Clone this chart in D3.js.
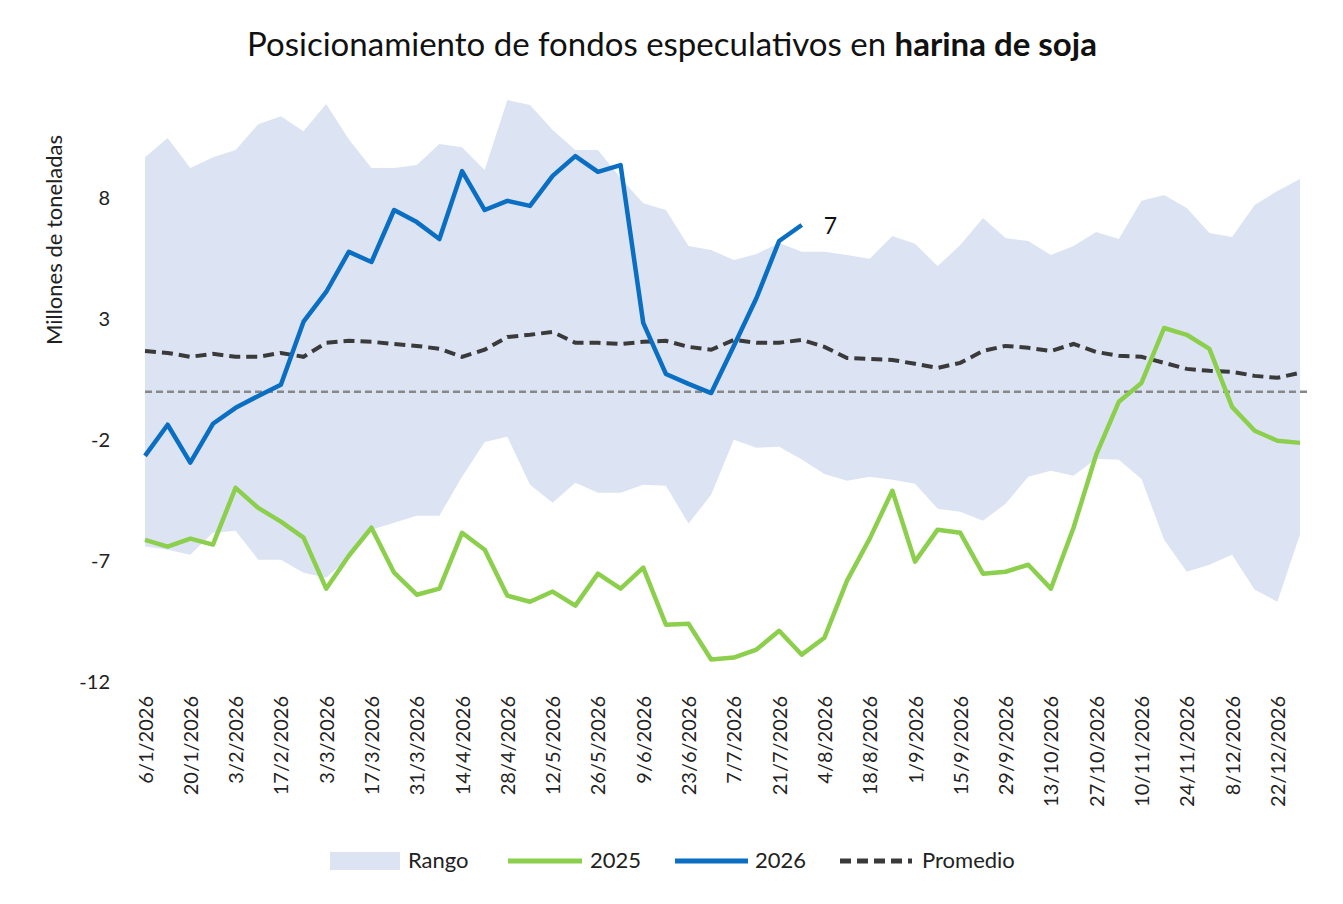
<!DOCTYPE html>
<html><head><meta charset="utf-8">
<script src="https://cdn.jsdelivr.net/npm/d3@7/dist/d3.min.js"></script>
<style>body{margin:0;background:#fff;font-family:Lato,"Open Sans",sans-serif}</style>
</head><body><svg id="c" width="1343" height="904"></svg>
<script>
const tickLabels=["6/1/2026","20/1/2026","3/2/2026","17/2/2026","3/3/2026","17/3/2026","31/3/2026","14/4/2026","28/4/2026","12/5/2026","26/5/2026","9/6/2026","23/6/2026","7/7/2026","21/7/2026","4/8/2026","18/8/2026","1/9/2026","15/9/2026","29/9/2026","13/10/2026","27/10/2026","10/11/2026","24/11/2026","8/12/2026","22/12/2026"];
const s2026=[-2.65,-1.36,-2.93,-1.32,-0.66,-0.17,0.29,2.9,4.13,5.79,5.37,7.52,7.02,6.32,9.13,7.52,7.9,7.69,8.93,9.75,9.1,9.38,2.85,0.74,0.33,-0.05,1.9,3.88,6.24,6.9];
const s2025=[-6.12,-6.4,-6.07,-6.32,-3.97,-4.8,-5.37,-6.03,-8.14,-6.78,-5.62,-7.48,-8.39,-8.14,-5.83,-6.53,-8.43,-8.68,-8.26,-8.84,-7.52,-8.14,-7.27,-9.63,-9.59,-11.07,-10.99,-10.66,-9.88,-10.87,-10.17,-7.81,-6.07,-4.09,-7.02,-5.7,-5.83,-7.52,-7.44,-7.15,-8.14,-5.62,-2.6,-0.41,0.37,2.64,2.36,1.78,-0.62,-1.61,-2.02,-2.11];
const promedio=[1.69,1.61,1.45,1.57,1.45,1.45,1.61,1.45,2.03,2.11,2.07,1.98,1.9,1.78,1.45,1.74,2.27,2.36,2.48,2.03,2.03,1.98,2.07,2.11,1.86,1.74,2.15,2.03,2.03,2.15,1.86,1.4,1.36,1.32,1.16,0.99,1.2,1.69,1.9,1.82,1.69,1.98,1.65,1.49,1.45,1.2,0.95,0.87,0.83,0.66,0.58,0.79];
const rangoMax=[9.7,10.5,9.26,9.7,10.0,11.07,11.4,10.78,11.9,10.45,9.26,9.26,9.38,10.25,10.12,9.17,12.07,11.86,10.83,10.0,10.0,8.84,7.8,7.52,6.03,5.87,5.45,5.7,6.16,5.79,5.79,5.66,5.5,6.45,6.12,5.2,6.07,7.19,6.36,6.24,5.66,6.03,6.61,6.32,7.9,8.14,7.6,6.57,6.4,7.73,8.31,8.8];
const rangoMin=[-6.4,-6.53,-6.74,-5.83,-5.74,-6.94,-6.94,-7.48,-7.69,-6.86,-5.7,-5.41,-5.12,-5.12,-3.51,-2.07,-1.86,-3.84,-4.59,-3.76,-4.17,-4.17,-3.84,-3.88,-5.45,-4.26,-1.98,-2.31,-2.27,-2.8,-3.4,-3.68,-3.51,-3.64,-3.8,-4.83,-4.96,-5.33,-4.63,-3.51,-3.26,-3.47,-2.77,-2.81,-3.6,-6.12,-7.44,-7.15,-6.74,-8.18,-8.68,-5.9];
const yTicks=[8,3,-2,-7,-12];

const svg=d3.select("#c");
const x=d3.scaleLinear().domain([0,51]).range([145,1300]);
const y=d3.scaleLinear().domain([-12,12.07]).range([682,100]);
const idx=d3.range(52);

svg.append("path").datum(idx).attr("fill","#dce4f4")
 .attr("d",d3.area().x(i=>x(i)).y0(i=>y(rangoMin[i])).y1(i=>y(rangoMax[i])));

svg.append("line").attr("x1",145).attr("x2",1310).attr("y1",y(0)).attr("y2",y(0))
 .attr("stroke","#888").attr("stroke-width",2.5).attr("stroke-dasharray","7,4");

const line=arr=>d3.line().x((d,i)=>x(i)).y(d=>y(d))(arr);
svg.append("path").attr("d",line(promedio)).attr("fill","none").attr("stroke","#3a3a3a").attr("stroke-width",4).attr("stroke-dasharray","11,6");
svg.append("path").attr("d",line(s2025)).attr("fill","none").attr("stroke","#8ccf4d").attr("stroke-width",4.5).attr("stroke-linejoin","round");
svg.append("path").attr("d",line(s2026)).attr("fill","none").attr("stroke","#0a6fc2").attr("stroke-width",4.5).attr("stroke-linejoin","round");
svg.append("text").attr("x",x(29)+22).attr("y",y(6.9)+9).attr("font-size",23).attr("fill","#111").text("7");

const ya=svg.append("g").attr("transform","translate(110,0)").call(d3.axisLeft(y).tickValues(yTicks).tickFormat(d=>String(d)).tickSize(0).tickPadding(0));
ya.select(".domain").remove();
ya.selectAll("text").attr("font-size",20).attr("fill","#222").attr("font-family","Lato,sans-serif");

const xa=svg.append("g").attr("transform","translate(0,696)").call(d3.axisBottom(x).tickValues(d3.range(0,51,2)).tickFormat((d,i)=>tickLabels[i]).tickSize(0).tickPadding(0));
xa.select(".domain").remove();
xa.selectAll("text").attr("font-size",20).attr("fill","#222").attr("font-family","Lato,sans-serif")
 .attr("transform","rotate(-90)").attr("text-anchor","end").attr("dy","0.35em").attr("x",0).attr("y",0);

svg.append("text").attr("transform","translate(62,240) rotate(-90)").attr("text-anchor","middle").attr("font-size",22).attr("fill","#222").text("Millones de toneladas");

const t=svg.append("text").attr("x",672).attr("y",56).attr("text-anchor","middle").attr("font-size",33).attr("fill","#111");
t.append("tspan").text("Posicionamiento de fondos especulativos en ");
t.append("tspan").attr("font-weight","bold").text("harina de soja");

const lg=svg.append("g").attr("font-size",22).attr("fill","#222");
lg.append("rect").attr("x",330).attr("y",852).attr("width",70).attr("height",18).attr("fill","#dce4f4");
lg.append("text").attr("x",408).attr("y",868).text("Rango");
lg.append("line").attr("x1",508).attr("x2",582).attr("y1",861).attr("y2",861).attr("stroke","#8ccf4d").attr("stroke-width",5);
lg.append("text").attr("x",590).attr("y",868).text("2025");
lg.append("line").attr("x1",675).attr("x2",748).attr("y1",861).attr("y2",861).attr("stroke","#0a6fc2").attr("stroke-width",5);
lg.append("text").attr("x",755).attr("y",868).text("2026");
lg.append("line").attr("x1",840).attr("x2",912).attr("y1",861).attr("y2",861).attr("stroke","#3a3a3a").attr("stroke-width",5).attr("stroke-dasharray","11,6");
lg.append("text").attr("x",922).attr("y",868).text("Promedio");
</script></body></html>
